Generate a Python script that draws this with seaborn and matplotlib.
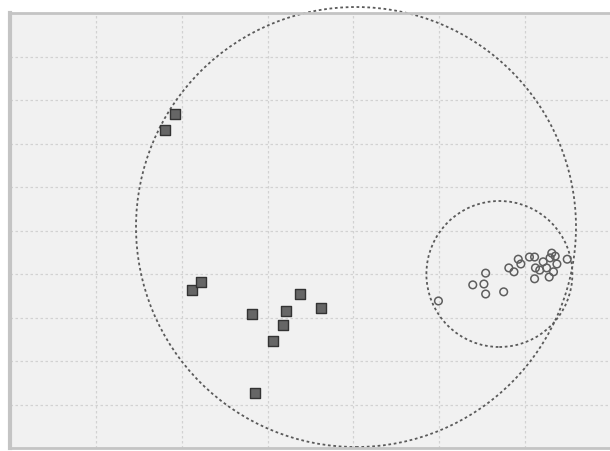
import matplotlib
matplotlib.use("Agg")
import matplotlib.pyplot as plt
from matplotlib.patches import Ellipse
import seaborn as sns
import pandas as pd

# Group A (filled squares)
sq_x = [1.92, 1.80, 2.12, 2.22, 2.82, 3.21, 3.18, 3.06, 3.38, 2.85, 3.62]
sq_y = [7.68, 7.31, 3.63, 3.82, 3.08, 3.15, 2.83, 2.46, 3.54, 1.26, 3.22]

# Group B (hollow circles)
ci_x = [4.99, 5.39, 5.54, 5.52, 5.54, 5.75, 5.81, 5.87, 5.92, 5.95, 6.05, 6.11,
        6.12, 6.11, 6.21, 6.17, 6.25, 6.28, 6.31, 6.35, 6.37, 6.33, 6.49, 6.29]
ci_y = [3.38, 3.75, 4.02, 3.77, 3.54, 3.59, 4.14, 4.05, 4.34, 4.23, 4.39, 4.39,
        4.14, 3.89, 4.28, 4.09, 4.14, 3.93, 4.48, 4.41, 4.23, 4.05, 4.34, 4.37]

# Enclosing circles: center x, center y, radius (pixels)
outline_cx = [4.03, 5.70]
outline_cy = [5.08, 4.00]
outline_r_px = [220, 73]

df = pd.DataFrame({
    "x": sq_x + ci_x,
    "y": sq_y + ci_y,
    "group": ["A"] * len(sq_x) + ["B"] * len(ci_x),
})

sns.set_style("whitegrid")
fig = plt.figure(figsize=(6.10, 4.52), dpi=100)
W, H = 610, 452
ax = fig.add_axes([10 / W, (H - 449) / H, 601 / W, (449 - 14) / H])
ax.set_facecolor("#f1f1f1")

sns.scatterplot(data=df[df.group == "A"], x="x", y="y", marker="s", s=45,
                color="#666666", edgecolor="#333333", linewidth=1.0, ax=ax,
                legend=False, zorder=3)
sns.scatterplot(data=df[df.group == "B"], x="x", y="y", marker="o", s=30,
                facecolor="none", edgecolor="#5e5e5e", linewidth=1.1, ax=ax,
                legend=False, zorder=3)

ax.set_xlim(0, 7)
ax.set_ylim(0, 10)
ax.set_xticks(range(0, 8))
ax.set_yticks(range(0, 11))
ax.set_xticklabels([])
ax.set_yticklabels([])
ax.tick_params(length=0)
ax.set_xlabel("")
ax.set_ylabel("")
ax.grid(True, color="#d2d2d2", linestyle=(0, (2, 2)), linewidth=0.9)

px_per_x = 601 / 7
px_per_y = 435 / 10
for cx, cy, r in zip(outline_cx, outline_cy, outline_r_px):
    e = Ellipse((cx, cy), 2 * r / px_per_x, 2 * r / px_per_y, fill=False,
                edgecolor="#5a5a5a", linestyle=(0, (1.5, 1.5)), linewidth=1.3,
                clip_on=False, zorder=2)
    ax.add_patch(e)

for side in ["left", "top", "bottom", "right"]:
    ax.spines[side].set_visible(True)
    ax.spines[side].set_color("#c4c4c4")
ax.spines["left"].set_linewidth(3)
ax.spines["top"].set_linewidth(2)
ax.spines["bottom"].set_linewidth(2)
ax.spines["right"].set_visible(False)

fig.savefig("out.png", dpi=100, facecolor="white")
